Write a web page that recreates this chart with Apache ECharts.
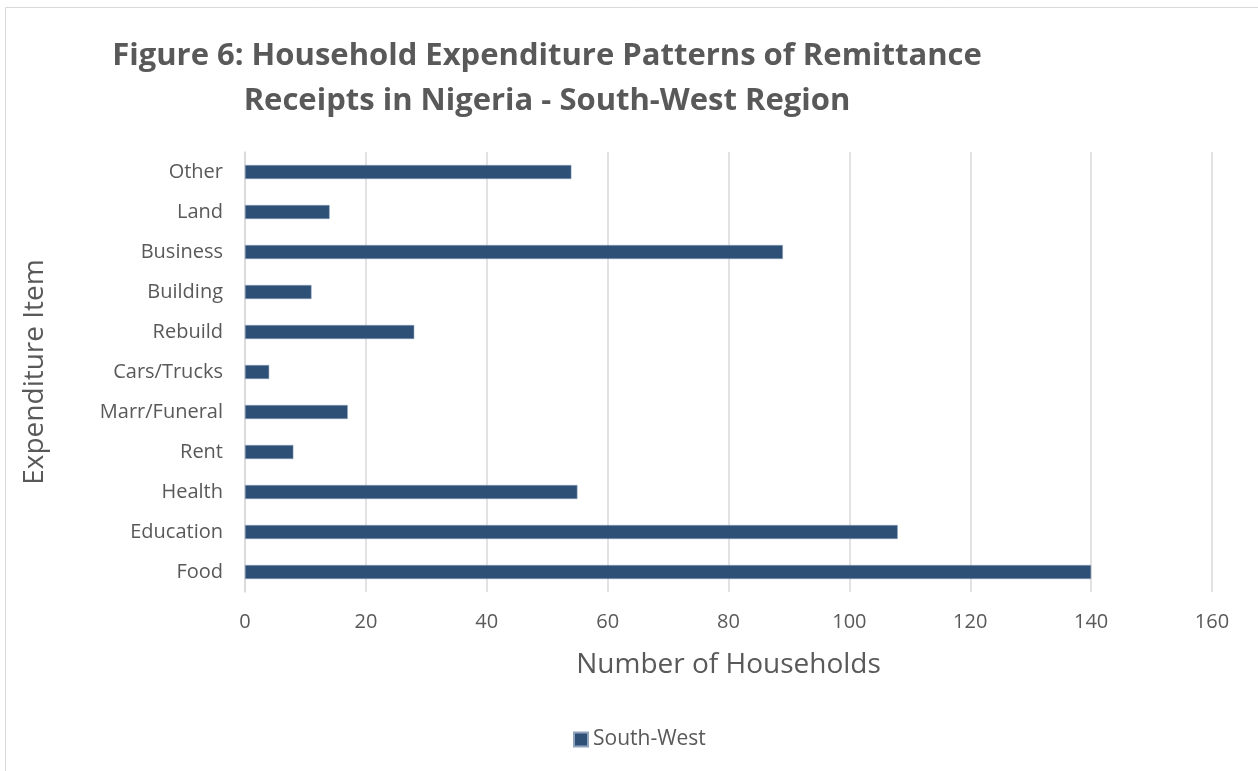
<!DOCTYPE html>
<html><head><meta charset="utf-8">
<script src="https://cdn.jsdelivr.net/npm/echarts@6/dist/echarts.min.js"></script>
<style>html,body{margin:0;padding:0;background:#fff}#c{width:1258px;height:771px}</style>
</head><body><div id="c"></div>
<script>
const categories = ['Food','Education','Health','Rent','Marr/Funeral','Cars/Trucks','Rebuild','Building','Business','Land','Other'];
const southWest = [140,108,55,8,17,4,28,11,89,14,54];
const xTicks = {min:0,max:160,interval:20};
const titleLines = ['Figure 6: Household Expenditure Patterns of Remittance','Receipts in Nigeria - South-West Region'];

const chart = echarts.init(document.getElementById('c'));
const font = '"Open Sans", sans-serif';
chart.setOption({
  animation:false,
  graphic:[
    {type:'rect',shape:{x:5.5,y:7.5,width:1300,height:800},style:{fill:'none',stroke:'#d9d9d9',lineWidth:1},silent:true},
    {type:'text',x:547,y:56,style:{text:titleLines[0],font:'bold 31px '+font,fill:'#595959',textAlign:'center',textVerticalAlign:'middle'}},
    {type:'text',x:547,y:101,style:{text:titleLines[1],font:'bold 31px '+font,fill:'#595959',textAlign:'center',textVerticalAlign:'middle'}}
  ],
  grid:{left:245,right:46,top:152,bottom:179,containLabel:false},
  legend:{data:['South-West'],top:724,left:568,itemWidth:14,itemHeight:14,itemGap:5,icon:'rect',
    textStyle:{color:'#595959',fontSize:21,fontFamily:font}},
  xAxis:{type:'value',min:xTicks.min,max:xTicks.max,interval:xTicks.interval,
    name:'Number of Households',nameLocation:'middle',nameGap:59,
    nameTextStyle:{color:'#595959',fontSize:28,fontFamily:font},
    axisLine:{show:false},axisTick:{show:false},
    axisLabel:{color:'#595959',fontSize:20,fontFamily:font,margin:20},
    splitLine:{show:true,lineStyle:{color:'#d9d9d9',width:1.5}}},
  yAxis:{type:'category',data:categories,
    name:'Expenditure Item',nameLocation:'middle',nameGap:196,nameRotate:90,
    nameTextStyle:{color:'#595959',fontSize:28,fontFamily:font},
    axisLine:{show:true,lineStyle:{color:'#d9d9d9',width:1.5}},axisTick:{show:false},
    axisLabel:{color:'#595959',fontSize:20,fontFamily:font,margin:22}},
  series:[{name:'South-West',type:'bar',data:southWest,barWidth:14,
    itemStyle:{color:'#2e5077',borderColor:'#8fa3bd',borderWidth:0.5}}]
});
</script></body></html>
